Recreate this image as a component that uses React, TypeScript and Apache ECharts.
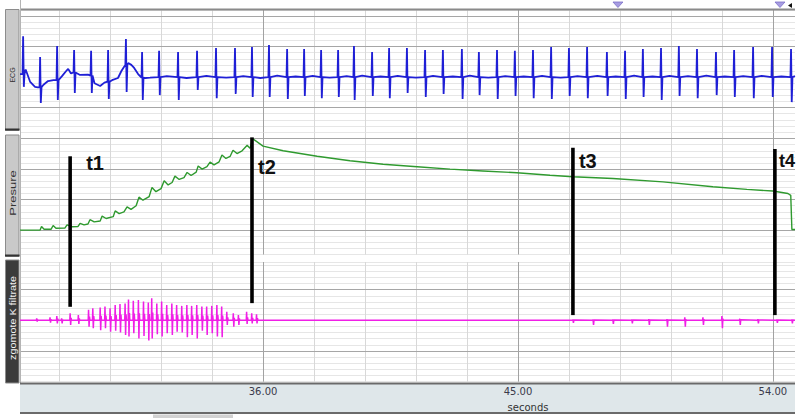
import React, { useEffect, useRef } from "react";
import * as echarts from "echarts";

// ---------- axis range (seconds) ----------
const T_MIN = 27.42;
const T_MAX = 54.78;

// vertical grid lines (seconds)
const minorGridTimes = [28.8, 30.6, 32.4, 34.2, 37.8, 39.6, 41.4, 43.2, 46.8, 48.6, 50.4, 52.2];
const majorGridTimes = [36, 45, 54];
const tickLabels = [36, 45, 54];

// ---------- ECG ----------
const ecgBeatTimes = [27.53, 28.13, 28.73, 29.33, 29.93, 30.53, 31.16, 31.73, 32.33, 33.0, 33.67, 34.34, 35.01, 35.61, 36.21, 36.85, 37.45, 38.05, 38.65, 39.21, 39.85, 40.45, 41.08, 41.72, 42.35, 43.02, 43.62, 44.26, 44.89, 45.53, 46.17, 46.8, 47.44, 48.14, 48.78, 49.41, 50.05, 50.68, 51.32, 51.99, 52.63, 53.3, 53.97, 54.64];
const ecgBeatUp = [1.34, 0.66, 1.02, 0.89, 0.86, 0.89, 1.25, 0.82, 0.86, 0.82, 0.86, 0.95, 0.95, 0.99, 1.05, 0.92, 0.92, 0.89, 0.89, 1.02, 0.82, 0.95, 0.95, 0.89, 0.89, 0.92, 0.82, 0.89, 0.86, 0.89, 0.99, 0.95, 0.99, 0.82, 0.86, 0.92, 0.95, 1.02, 0.92, 0.82, 0.89, 0.99, 0.99, 0.92];
const ecgBeatDown = [-0.32, -0.85, -0.75, -0.52, -0.52, -0.72, -0.49, -0.75, -0.59, -0.75, -0.42, -0.69, -0.55, -0.65, -0.65, -0.72, -0.62, -0.69, -0.65, -0.75, -0.62, -0.69, -0.52, -0.65, -0.55, -0.72, -0.59, -0.72, -0.62, -0.69, -0.72, -0.62, -0.69, -0.62, -0.72, -0.65, -0.75, -0.62, -0.69, -0.59, -0.65, -0.69, -0.65, -0.82];
const ecgBeatBase = [0.1, -0.33, -0.1, 0.15, 0.05, -0.15, 0.4, -0.02, 0, 0, 0, 0, 0, 0, 0, 0, 0, 0, 0, 0, 0, 0, 0, 0, 0, 0, 0, 0, 0, 0, 0, 0, 0, 0, 0, 0, 0, 0, 0, 0, 0, 0, 0, 0];
const ecgBaseTimes = [27.42, 27.62, 27.78, 27.95, 28.05, 28.25, 28.41, 28.6, 28.91, 29.05, 29.12, 29.22, 29.54, 29.82, 30.05, 30.25, 30.4, 30.67, 30.88, 31.0, 31.09, 31.24, 31.35, 31.45, 31.59, 31.85, 32.01, 32.6, 33.3, 34.0, 34.7, 35.3, 35.9, 36.5, 37.15, 37.75, 38.35, 38.95, 39.5, 40.15, 40.75, 41.4, 42.0, 42.7, 43.3, 43.95, 44.55, 45.2, 45.85, 46.5, 47.1, 47.8, 48.45, 49.1, 49.75, 50.35, 51.0, 51.65, 52.3, 52.95, 53.6, 54.3, 54.78];
const ecgBaseValues = [0.1, 0.25, -0.16, -0.32, -0.34, -0.25, -0.13, -0.1, 0.04, 0.2, 0.27, 0.12, 0.07, 0.08, -0.2, -0.29, -0.18, -0.1, -0.03, 0.2, 0.33, 0.46, 0.4, 0.3, 0.1, -0.03, -0.02, 0.03, -0.03, 0.04, -0.02, 0.03, -0.03, 0.05, 0.02, 0.04, -0.02, 0.03, 0.05, 0.02, 0.04, -0.02, 0.04, 0.02, 0.05, -0.02, 0.03, 0.02, 0.04, -0.02, 0.03, 0.04, 0.02, 0.05, 0.02, 0.04, 0.03, 0.05, 0.02, 0.03, 0.04, 0.02, 0.03];

// ---------- Pressure (mmHg) ----------
const pressureTimes = [27.42, 28.13, 28.18, 28.27, 28.52, 28.59, 28.69, 29.01, 29.08, 29.26, 29.47, 29.54, 29.68, 29.82, 29.89, 30.04, 30.25, 30.32, 30.46, 30.71, 30.78, 30.92, 31.09, 31.2, 31.34, 31.52, 31.62, 31.76, 31.98, 32.08, 32.22, 32.4, 32.51, 32.65, 32.79, 32.89, 33.04, 33.21, 33.32, 33.46, 33.64, 33.71, 33.85, 34.02, 34.13, 34.27, 34.45, 34.55, 34.69, 34.84, 34.94, 35.08, 35.26, 35.44, 35.54, 35.63, 36.0, 36.71, 37.91, 39.07, 40.24, 41.44, 42.6, 43.76, 44.96, 46.13, 46.94, 48.35, 50.12, 51.88, 53.08, 54.0, 54.53, 54.63, 54.67, 54.78];
const pressureValues = [0, 0, 6, 1.5, 1.5, 7.5, 3, 3.5, 8.5, 5.5, 6, 11, 8.5, 10, 17, 13.5, 15, 23, 19, 22, 31.5, 27, 30, 38, 34, 40, 54, 49, 55, 70, 63, 68, 81, 74, 78, 88.5, 83, 86, 94.5, 89.5, 95, 105, 100, 104, 111.5, 107, 112, 123, 117.5, 121, 131, 125.5, 130, 139, 134, 150, 137.7, 130, 121, 113.6, 108, 103.8, 100, 97, 94, 90, 87.4, 84.7, 79, 71, 66.7, 64, 60, 57, 1, 1];

// ---------- Filtered sounds ----------
const filtSpikeTimes = [28.01, 28.48, 28.72, 28.89, 29.19, 29.48, 29.84, 29.99, 30.25, 30.42, 30.6, 30.78, 30.95, 31.13, 31.25, 31.42, 31.6, 31.78, 31.95, 32.07, 32.25, 32.42, 32.6, 32.78, 32.95, 33.13, 33.31, 33.48, 33.66, 33.84, 34.01, 34.19, 34.37, 34.54, 34.72, 34.95, 35.13, 35.42, 35.6, 35.77, 46.94, 47.65, 48.35, 49.02, 49.62, 50.26, 50.89, 51.53, 52.2, 52.83, 53.47, 54.14, 54.67];
const filtSpikeUp = [0.065, 0.1, 0.14, 0.065, 0.23, 0.17, 0.34, 0.39, 0.42, 0.45, 0.39, 0.5, 0.53, 0.55, 0.68, 0.64, 0.66, 0.61, 0.58, 0.72, 0.55, 0.61, 0.5, 0.55, 0.5, 0.47, 0.5, 0.47, 0.5, 0.45, 0.45, 0.47, 0.5, 0.45, 0.28, 0.23, 0.17, 0.28, 0.23, 0.2, 0.03, 0.03, 0.03, 0.03, 0.04, 0.04, 0.1, 0.1, 0.14, 0.05, 0.04, 0.03, 0.03];
const filtSpikeDown = [-0.04, -0.08, -0.1, -0.1, -0.15, -0.12, -0.21, -0.26, -0.32, -0.26, -0.37, -0.34, -0.4, -0.48, -0.53, -0.42, -0.59, -0.51, -0.66, -0.59, -0.45, -0.53, -0.42, -0.48, -0.37, -0.4, -0.55, -0.48, -0.59, -0.34, -0.48, -0.42, -0.53, -0.55, -0.15, -0.21, -0.15, -0.12, -0.1, -0.1, -0.08, -0.15, -0.12, -0.1, -0.15, -0.21, -0.21, -0.15, -0.26, -0.15, -0.1, -0.08, -0.1];

// ---------- markers ----------
const markerTimes = [29.19, 35.61, 46.94, 54.07];
const markerLabels = ["t1", "t2", "t3", "t4"];
const markerTopPressure = [121, 152, 135, 133];
const markerBottomFilt = [0.44, 0.56, 0.17, 0.17];
const eventTimes = [48.53, 54.25];

function buildEcg(): number[][] {
  const pts: number[][] = [];
  ecgBaseTimes.forEach((t, i) => pts.push([t, ecgBaseValues[i]]));
  ecgBeatTimes.forEach((t, i) => {
    const b = ecgBeatBase[i];
    pts.push([t - 0.02, b], [t, ecgBeatUp[i]], [t + 0.025, ecgBeatDown[i]], [t + 0.05, b]);
  });
  pts.sort((a, b) => a[0] - b[0]);
  return pts;
}

function buildFilt(): number[][] {
  const pts: number[][] = [[T_MIN, 0]];
  filtSpikeTimes.forEach((t, i) => {
    const u = filtSpikeUp[i];
    const d = filtSpikeDown[i];
    pts.push([t - 0.012, 0], [t, u], [t + 0.018, d], [t + 0.034, u * 0.35], [t + 0.048, 0]);
  });
  pts.push([T_MAX, 0]);
  pts.sort((a, b) => a[0] - b[0]);
  return pts;
}

const MINOR_V = "#d8d8d8";
const MAJOR_V = "#a2a2a2";
const DARK_H = "#a6a6a6";

function gridLineSeries(idx: number, darkH: number[]) {
  const data: any[] = [];
  minorGridTimes.forEach((t) => data.push({ xAxis: t, lineStyle: { color: MINOR_V, width: 1, type: "solid" } }));
  majorGridTimes.forEach((t) => data.push({ xAxis: t, lineStyle: { color: MAJOR_V, width: 1, type: "solid" } }));
  darkH.forEach((v) => data.push({ yAxis: v, lineStyle: { color: DARK_H, width: 1, type: "solid" } }));
  return {
    type: "line",
    xAxisIndex: idx,
    yAxisIndex: idx,
    data: [],
    z: 1,
    silent: true,
    markLine: {
      z: 1,
      silent: true,
      symbol: "none",
      label: { show: false },
      emphasis: { disabled: true },
      animation: false,
      data,
    },
  };
}

function xAxisFor(idx: number, showLabels: boolean) {
  return {
    type: "value",
    gridIndex: idx,
    min: T_MIN,
    max: T_MAX,
    z: showLabels ? 50 : 0,
    axisLine: { show: false },
    axisTick: { show: false },
    splitLine: { show: false },
    axisLabel: showLabels
      ? {
          show: true,
          customValues: tickLabels,
          formatter: (v: number) => v.toFixed(2),
          fontSize: 10,
          fontFamily: "DejaVu Sans",
          color: "#3a3a4a",
          margin: 5,
        }
      : { show: false },
  };
}

function yAxisFor(idx: number, min: number, max: number, interval: number) {
  return {
    type: "value",
    gridIndex: idx,
    min,
    max,
    interval,
    axisLine: { show: false },
    axisTick: { show: false },
    axisLabel: { show: false },
    splitLine: { show: true, lineStyle: { color: "#e6e6e6", width: 1 } },
  };
}

export default function App() {
  const ref = useRef<HTMLDivElement>(null);
  useEffect(() => {
    document.body.style.margin = "0";
    const chart = echarts.init(ref.current!, null, { renderer: "svg" });
    const option: any = {
      animation: false,
      backgroundColor: "#ffffff",
      textStyle: { fontFamily: "Liberation Sans" },
      grid: [
        { left: 20, right: 5, top: 10, height: 122 },
        { left: 20, right: 5, top: 132.5, height: 122 },
        { left: 20, right: 5, top: 262, height: 119.7 },
      ],
      xAxis: [xAxisFor(0, false), xAxisFor(1, false), xAxisFor(2, true)],
      yAxis: [yAxisFor(0, -1.8, 2.2, 0.2), yAxisFor(1, -40, 160, 10), yAxisFor(2, -2, 1.9, 0.2)],
      series: [
        gridLineSeries(0, [-1, 1, 2]),
        gridLineSeries(1, [0, 50, 100, 150]),
        gridLineSeries(2, [-1, 1]),
        {
          name: "ECG",
          type: "line",
          xAxisIndex: 0,
          yAxisIndex: 0,
          data: buildEcg(),
          showSymbol: false,
          z: 10,
          lineStyle: { color: "#1f1fd6", width: 1.8 },
        },
        {
          name: "Presure",
          type: "line",
          xAxisIndex: 1,
          yAxisIndex: 1,
          data: pressureTimes.map((t, i) => [t, pressureValues[i]]),
          showSymbol: false,
          z: 10,
          lineStyle: { color: "#2f9a2f", width: 1.4 },
        },
        {
          name: "zgomote K filtrate",
          type: "line",
          xAxisIndex: 2,
          yAxisIndex: 2,
          data: buildFilt(),
          showSymbol: false,
          z: 10,
          lineStyle: { color: "#f01ee6", width: 1.5 },
        },
      ],
    };
    chart.setOption(option);

    const px = (g: number, t: number, v: number) =>
      chart.convertToPixel({ xAxisIndex: g, yAxisIndex: g }, [t, v]) as number[];

    const g: any[] = [];
    // frame lines
    g.push({ type: "line", z: 5, shape: { x1: 20, y1: 9.5, x2: 795, y2: 9.5 }, style: { stroke: "#8a8a8a", lineWidth: 2 } });
    g.push({ type: "line", z: 5, shape: { x1: 20.5, y1: 0, x2: 20.5, y2: 383 }, style: { stroke: "#b4b4b4", lineWidth: 1 } });
    // label boxes
    const boxes = [
      { y: 9.5, h: 121, fill: "#c9c9c9", text: "ECG", color: "#333", fs: 7, sx: 1 },
      { y: 135, h: 121.5, fill: "#c9c9c9", text: "Presure", color: "#333", fs: 9, sx: 1.45 },
      { y: 260, h: 123, fill: "#3b3b3b", text: "zgomote K filtrate", color: "#f2f2f2", fs: 9, sx: 1.2 },
    ];
    const textCenters = [75, 193, 318];
    boxes.forEach((b, i) => {
      g.push({ type: "rect", z: 5, shape: { x: 5.5, y: b.y, width: 13.5, height: b.h }, style: { fill: b.fill, stroke: "#8c8c8c", lineWidth: 1 } });
      if (i < 2)
        g.push({ type: "line", z: 6, shape: { x1: 5, y1: b.y + b.h - 1, x2: 19.5, y2: b.y + b.h - 1 }, style: { stroke: "#333", lineWidth: 2 } });
      g.push({
        type: "text",
        z: 7,
        x: 12.5,
        y: textCenters[i],
        rotation: Math.PI / 2,
        scaleX: b.sx,
        style: { text: b.text, fill: b.color, fontSize: b.fs, fontFamily: "Liberation Sans", align: "center", verticalAlign: "middle" },
      });
    });
    // axis band
    g.push({ type: "rect", z: 5, shape: { x: 20, y: 383, width: 775, height: 30 }, style: { fill: "#dfe7ea" } });
    g.push({ type: "line", z: 6, shape: { x1: 20, y1: 383.5, x2: 795, y2: 383.5 }, style: { stroke: "#6a6a6a", lineWidth: 2 } });
    g.push({ type: "line", z: 6, shape: { x1: 20, y1: 413, x2: 795, y2: 413 }, style: { stroke: "#6a6a6a", lineWidth: 2 } });
    g.push({ type: "text", z: 7, x: 528, y: 407, style: { text: "seconds", fill: "#333", fontSize: 10, fontFamily: "DejaVu Sans", align: "center", verticalAlign: "middle" } });
    g.push({ type: "rect", z: 5, shape: { x: 153, y: 414.5, width: 80, height: 4 }, style: { fill: "#d2d2d2" } });
    // event triangles
    eventTimes.forEach((t) => {
      const x = px(0, t, 0)[0];
      g.push({ type: "polygon", z: 7, shape: { points: [[x - 5, 2], [x + 5, 2], [x, 7.5]] }, style: { fill: "#a79de2", stroke: "#7c70c8", lineWidth: 0.8 } });
    });
    g.push({ type: "polygon", z: 7, shape: { points: [[792, 3], [792, 8], [788, 5.5]] }, style: { fill: "#111" } });
    // markers
    const labelDx = [16, 6, 6, 4];
    const labelDy = [163, 167, 161, 161];
    markerTimes.forEach((t, i) => {
      const top = px(1, t, markerTopPressure[i]);
      const bot = px(2, t, markerBottomFilt[i]);
      g.push({ type: "line", z: 20, shape: { x1: top[0], y1: top[1], x2: bot[0], y2: bot[1] }, style: { stroke: "#000", lineWidth: 3.6 } });
      g.push({
        type: "text",
        z: 20,
        x: top[0] + labelDx[i],
        y: labelDy[i],
        style: { text: markerLabels[i], fill: "#111", fontSize: i === 3 ? 18 : 20, fontWeight: "bold", fontFamily: "Liberation Sans", align: "left", verticalAlign: "middle" },
      });
    });

    chart.setOption({ graphic: { elements: g } });
    return () => chart.dispose();
  }, []);
  return <div ref={ref} style={{ width: 800, height: 418 }} />;
}
